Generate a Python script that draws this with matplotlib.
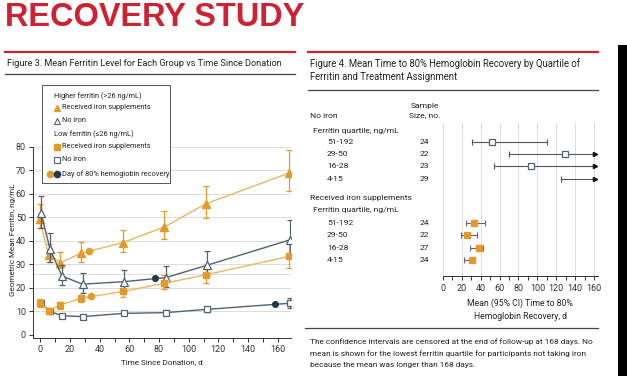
import matplotlib.pyplot as plt
from matplotlib.patches import Rectangle
from matplotlib.transforms import blended_transform_factory

plt.rcParams['font.family'] = ['Roboto', 'DejaVu Sans']

# Figure 3 data: geometric mean ferritin (ng/mL) by day since donation
days = [0, 6, 14, 28, 56, 84, 112, 168]
hi_iron = [49.4, 34.1, 30.8, 34.8, 39.3, 45.9, 55.8, 68.9]
hi_iron_lo = [45.5, 31.2, 28.7, 31.2, 35.2, 40.9, 49.6, 61.1]
hi_iron_hi = [55.8, 38.9, 35.1, 39.6, 44.7, 52.6, 63.2, 78.8]
hi_none = [51.8, 36.5, 25.1, 21.6, 22.7, 24.4, 29.7, 40.5]
hi_none_lo = [45.5, 31.2, 21.3, 17.8, 18.5, 20.6, 24.9, 34.1]
hi_none_hi = [59.2, 43.6, 29.8, 26.3, 27.7, 29.4, 35.8, 49.0]
lo_iron = [13.8, 10.4, 12.8, 15.6, 18.5, 22.0, 25.6, 33.4]
lo_iron_lo = [12.1, 9.2, 10.9, 13.9, 16.3, 19.5, 22.0, 28.4]
lo_iron_hi = [15.2, 11.4, 14.2, 17.0, 19.9, 25.6, 28.4, 40.5]
lo_none = [13.5, 10.0, 8.2, 7.8, 9.2, 9.5, 10.9, 13.5]
lo_none_lo = [12.3, 9.0, 7.4, 7.0, 8.3, 8.5, 9.9, 11.4]
lo_none_hi = [14.7, 11.0, 9.0, 8.6, 10.1, 10.5, 11.9, 15.9]

# day of 80% hemoglobin recovery
rec_iron_day = [33, 34]
rec_iron_val = [35.9, 16.6]
rec_none_day = [77, 158]
rec_none_val = [24.1, 13.1]

# Figure 4 data: mean (95% CI) time to 80% hemoglobin recovery, d
quartiles = ['51-192', '29-50', '16-28', '4-15']
none_n = [24, 22, 23, 29]
none_mean = [51.6, 129.5, 93.0, None]
none_lo = [30.5, 70.0, 54.0, 125.0]
none_hi = [110.5, 168, 168, 168]
iron_n = [24, 22, 27, 24]
iron_mean = [33.3, 25.3, 38.2, 30.5]
iron_lo = [24.2, 19.0, 28.7, 22.4]
iron_hi = [44.9, 35.8, 42.8, 34.0]

ORANGE = '#e39a2a'
ORANGE_L = '#ecb563'
SLATE = '#4f6270'
DARK = '#1f3b4c'
RED = '#cc2232'
GRID = '#dcdcdc'
TXT = '#222222'
W, H = 627, 376


def fx(px):
    return px / W


def fy(py):
    return 1 - py / H


fig = plt.figure(figsize=(6.27, 3.76), dpi=100)
renderer = fig.canvas.get_renderer()


def fit(t, width, boost=1.1):
    # the original uses a condensed face; size to its width, then a little taller
    w = t.get_window_extent(renderer).width
    t.set_fontsize(t.get_fontsize() * width / w * boost)
    return t.get_fontsize()


t = fig.text(fx(5), fy(17), 'RECOVERY STUDY', color=RED, fontsize=24, fontweight='bold',
             family='Liberation Sans', va='center', ha='left')
fit(t, 300, boost=1.0)

# panel header lines
for x0, x1 in [(5, 295), (308, 598)]:
    fig.add_artist(plt.Line2D([fx(x0), fx(x1)], [fy(51.5), fy(51.5)], color=RED, lw=1.6))
fig.add_artist(plt.Line2D([fx(5), fx(295)], [fy(73.5), fy(73.5)], color='#444444', lw=0.9))
fig.add_artist(plt.Line2D([fx(308), fx(598)], [fy(89.5), fy(89.5)], color='#444444', lw=0.9))
fig.add_artist(plt.Line2D([fx(305), fx(598)], [fy(327.5), fy(327.5)], color='#444444', lw=0.9))
fig.add_artist(Rectangle((fx(618), 0), 1 - fx(618), fy(45), transform=fig.transFigure,
                         color='black', lw=0))

t = fig.text(fx(7), fy(63.5), 'Figure 3. Mean Ferritin Level for Each Group vs Time Since Donation',
             fontsize=7, va='center', color=TXT)
fit(t, 268, boost=1.03)
t = fig.text(fx(310), fy(63.5), 'Figure 4. Mean Time to 80% Hemoglobin Recovery by Quartile of',
             fontsize=7, va='center', color=TXT)
hs = fit(t, 263, boost=1.03)
fig.text(fx(310), fy(77), 'Ferritin and Treatment Assignment', fontsize=hs, va='center', color=TXT)

# ---------------- Figure 3 ----------------
ax = fig.add_axes([fx(33), fy(338), fx(291 - 33), (338 - 147) / H])
ax.set_xlim(-5, 169)
ax.set_ylim(-1.3, 80)
for v in range(10, 90, 10):
    ax.axhline(v, color=GRID, lw=0.7, zorder=0)
ax.axhline(26, color=GRID, lw=0.7, zorder=0)

d_i = [d - 0.5 for d in days]
d_n = [d + 0.5 for d in days]
eb = dict(capsize=2.5, elinewidth=0.9, capthick=0.9, lw=1.0)
ax.errorbar(d_i, hi_iron, yerr=[[m - l for m, l in zip(hi_iron, hi_iron_lo)],
                                [h - m for m, h in zip(hi_iron, hi_iron_hi)]],
            color=ORANGE_L, ecolor=ORANGE, marker='^', ms=5.5, mfc=ORANGE, mec=ORANGE, zorder=3, **eb)
ax.errorbar(d_n, hi_none, yerr=[[m - l for m, l in zip(hi_none, hi_none_lo)],
                                [h - m for m, h in zip(hi_none, hi_none_hi)]],
            color=SLATE, ecolor=SLATE, marker='^', ms=5.5, mfc='white', mec=SLATE, mew=0.9,
            zorder=4, **eb)
ax.errorbar(d_i, lo_iron, yerr=[[m - l for m, l in zip(lo_iron, lo_iron_lo)],
                                [h - m for m, h in zip(lo_iron, lo_iron_hi)]],
            color=ORANGE_L, ecolor=ORANGE, marker='s', ms=5, mfc=ORANGE, mec=ORANGE, zorder=4, **eb)
ax.errorbar(d_n, lo_none, yerr=[[m - l for m, l in zip(lo_none, lo_none_lo)],
                                [h - m for m, h in zip(lo_none, lo_none_hi)]],
            color=SLATE, ecolor=SLATE, marker='s', ms=4.5, mfc='white', mec=SLATE, mew=0.9,
            zorder=3, **eb)
ax.scatter(rec_iron_day, rec_iron_val, s=30, color=ORANGE, zorder=5, lw=0)
ax.scatter(rec_none_day, rec_none_val, s=26, color=DARK, zorder=5, lw=0)

ax.set_xticks(range(0, 161, 20))
ax.set_xticks(range(0, 170, 10), minor=True)
ax.set_yticks(range(0, 81, 10))
ax.tick_params(labelsize=6.5, length=3, width=0.7, colors='#333333', pad=2)
ax.tick_params(which='minor', length=3, width=0.7, colors='#333333')
for s in ['top', 'right']:
    ax.spines[s].set_visible(False)
for s in ['left', 'bottom']:
    ax.spines[s].set_linewidth(0.7)
    ax.spines[s].set_color('#333333')
ax.set_xlabel('Time Since Donation, d', fontsize=6.5, labelpad=4, color=TXT)
als = fit(ax.xaxis.label, 70, boost=1.15)
t = fig.text(fx(13), fy(240), 'Geometric Mean Ferritin, ng/mL', rotation=90, fontsize=als,
             va='center', ha='center', color=TXT)

# legend box
lg = fig.add_axes([fx(42), fy(183), fx(128), 98 / H])
lg.set_xlim(0, 128)
lg.set_ylim(98, 0)
lg.set_xticks([])
lg.set_yticks([])
for s in lg.spines.values():
    s.set_linewidth(0.7)
    s.set_color('#555555')
t = lg.text(20, 23, 'Received iron supplements', fontsize=6, va='center', color=TXT)
lfs = fit(t, 83, boost=1.08)
lg.text(12, 11, 'Higher ferritin (>26 ng/mL)', fontsize=lfs, va='center', color=TXT)
lg.plot([15], [23], marker='^', ms=4.5, color=ORANGE, ls='none')
lg.plot([15], [36], marker='^', ms=4.5, mfc='white', mec=SLATE, mew=0.8, ls='none')
lg.text(20, 36, 'No iron', fontsize=lfs, va='center', color=TXT)
lg.text(12, 49, 'Low ferritin (≤26 ng/mL)', fontsize=lfs, va='center', color=TXT)
lg.plot([15], [62], marker='s', ms=4, color=ORANGE, ls='none')
lg.text(20, 62, 'Received iron supplements', fontsize=lfs, va='center', color=TXT)
lg.plot([15], [75], marker='s', ms=4, mfc='white', mec=SLATE, mew=0.8, ls='none')
lg.text(20, 75, 'No iron', fontsize=lfs, va='center', color=TXT)
lg.plot([7.5], [89], marker='o', ms=4.5, color=ORANGE, ls='none')
lg.plot([15], [89], marker='o', ms=4.5, color=DARK, ls='none')
lg.text(20, 89, 'Day of 80% hemoglobin recovery', fontsize=lfs, va='center', color=TXT)

# ---------------- Figure 4 ----------------
bx = fig.add_axes([fx(442.7), fy(276), fx(598 - 442.7), (276 - 123) / H])
bx.set_xlim(0, 164)
bx.set_ylim(10.83, -1.5)
none_y = [0, 1, 2, 3]
iron_y = [6.55, 7.55, 8.55, 9.55]
censor_x = 161
for v in range(0, 161, 20):
    bx.axvline(v, color=GRID, lw=0.7, zorder=0)

for y, m, lo, hi in zip(none_y, none_mean, none_lo, none_hi):
    end = min(hi, censor_x)
    bx.plot([lo, end], [y, y], color='#555555', lw=0.8, zorder=2)
    bx.plot([lo], [y], marker='|', ms=5, color='#555555', mew=0.8, zorder=2)
    if hi > censor_x:
        bx.plot([end], [y], marker='>', ms=3, color='#111111', zorder=3)
    else:
        bx.plot([end], [y], marker='|', ms=5, color='#555555', mew=0.8, zorder=2)
    if m is not None:
        bx.plot([m], [y], marker='s', ms=4.5, mfc='white', mec=SLATE, mew=0.9, zorder=4)

bx.errorbar(iron_mean, iron_y, xerr=[[m - l for m, l in zip(iron_mean, iron_lo)],
                                     [h - m for m, h in zip(iron_mean, iron_hi)]],
            fmt='s', ms=5, color=ORANGE, ecolor='#666666', elinewidth=0.8, capsize=2.5,
            capthick=0.8, zorder=4)

bx.set_xticks(range(0, 161, 20))
bx.set_xticks(range(0, 165, 10), minor=True)
bx.set_yticks([])
bx.tick_params(labelsize=6.5, length=3, width=0.7, colors='#333333', pad=3)
bx.tick_params(which='minor', length=3, width=0.7, colors='#333333')
for s in ['top', 'right', 'left']:
    bx.spines[s].set_visible(False)
bx.spines['bottom'].set_linewidth(0.7)
bx.spines['bottom'].set_color('#333333')
bx.set_xlabel('Mean (95% CI) Time to 80%\nHemoglobin Recovery, d', fontsize=6.5,
              labelpad=4, color=TXT, linespacing=1.45)
fit(bx.xaxis.label, 94, boost=1.12)

tr = blended_transform_factory(fig.transFigure, bx.transData)
t = fig.text(fx(310), fy(198), 'Received iron supplements', fontsize=6.5, va='center', color=TXT)
tfs = fit(t, 90, boost=1.12)
fig.text(fx(425), fy(106), 'Sample', fontsize=tfs, ha='center', va='center', color=TXT)
fig.text(fx(425), fy(115.5), 'Size, no.', fontsize=tfs, ha='center', va='center', color=TXT)
fig.text(fx(310), fy(115.5), 'No iron', fontsize=tfs, va='center', color=TXT)
fig.text(fx(313), fy(131), 'Ferritin quartile, ng/mL', fontsize=tfs, va='center', color=TXT)
fig.text(fx(313), fy(210), 'Ferritin quartile, ng/mL', fontsize=tfs, va='center', color=TXT)
for ys, ns in [(none_y, none_n), (iron_y, iron_n)]:
    for y, q, n in zip(ys, quartiles, ns):
        bx.text(fx(327), y, q, transform=tr, fontsize=tfs, va='center', color=TXT)
        bx.text(fx(424), y, str(n), transform=tr, fontsize=tfs, va='center', ha='center',
                color=TXT)

foot = ['The confidence intervals are censored at the end of follow-up at 168 days. No',
        'mean is shown for the lowest ferritin quartile for participants not taking iron',
        'because the mean was longer than 168 days.']
t = fig.text(fx(310), fy(341.5), foot[0], fontsize=6.5, va='center', color=TXT)
ffs = fit(t, 275, boost=1.02)
for i, line in enumerate(foot[1:], start=1):
    fig.text(fx(310), fy(341.5 + i * 12), line, fontsize=ffs, va='center', color=TXT)

plt.savefig('out.png', dpi=100)
